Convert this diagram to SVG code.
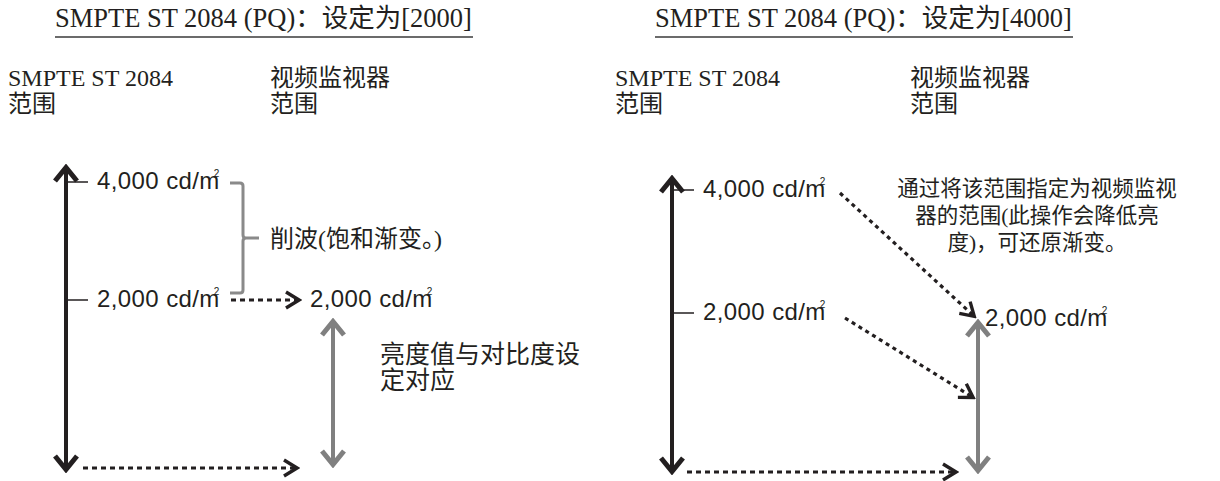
<svg xmlns="http://www.w3.org/2000/svg" width="1220" height="481" viewBox="0 0 1220 481">
<style>
.serif{font-family:"Liberation Serif","Noto Sans CJK SC",serif;fill:#231f20}
.title{font-size:26.5px}
.hdr{font-size:24px}
.note{font-size:24px}
.sans{font-family:"Liberation Sans","Noto Sans CJK SC",sans-serif;font-size:24px;letter-spacing:0.4px;fill:#231f20}
.sup{font-size:10px;letter-spacing:0}
.ul{stroke:#3a3a3a;stroke-width:1.5}
.axis{stroke:#231f20;stroke-width:4;fill:none}
.gaxis{stroke:#808080;stroke-width:4;fill:none}
.tick{stroke:#231f20;stroke-width:1.5}
.brace{stroke:#8a8a8a;stroke-width:3;fill:none;stroke-linejoin:round}
.dash{stroke:#231f20;stroke-width:3;fill:none;stroke-dasharray:5 4}
.dot{stroke:#231f20;stroke-width:3.2;fill:none;stroke-dasharray:4 4}
</style>
<defs>
<marker id="ah" viewBox="-20 -13 22 26" markerWidth="22" markerHeight="26" refX="0" refY="0" orient="auto" markerUnits="userSpaceOnUse">
<path d="M-14,-8 L-1,0 L-14,8" fill="none" stroke="#231f20" stroke-width="3.4" stroke-dasharray="none"/>
</marker>
<marker id="bk" viewBox="-22 -16 24 32" markerWidth="24" markerHeight="32" refX="0" refY="0" orient="auto-start-reverse" markerUnits="userSpaceOnUse">
<path d="M-15,-11 L-1.5,0 L-15,11" fill="none" stroke="#231f20" stroke-width="5"/>
</marker>
<marker id="gy" viewBox="-22 -16 24 32" markerWidth="24" markerHeight="32" refX="0" refY="0" orient="auto-start-reverse" markerUnits="userSpaceOnUse">
<path d="M-15,-11 L-1.5,0 L-15,11" fill="none" stroke="#808080" stroke-width="5"/>
</marker>
</defs>

<!-- Left panel -->
<g id="left-title">
<text class="serif title" x="55" y="27">SMPTE ST 2084 (PQ)：设定为[2000]</text>
<line class="ul" x1="55" y1="37" x2="473" y2="37"/>
</g>
<g id="left-src-header">
<text class="serif hdr" x="8" y="86">SMPTE ST 2084</text>
<text class="serif hdr" x="8" y="112">范围</text>
</g>
<g id="left-mon-header">
<text class="serif hdr" x="270" y="86">视频监视器</text>
<text class="serif hdr" x="270" y="112">范围</text>
</g>
<g id="left-src-axis">
<line class="axis" x1="66" y1="166" x2="66" y2="471" marker-start="url(#bk)" marker-end="url(#bk)"/>
<line class="tick" x1="68" y1="182" x2="88" y2="182"/>
<line class="tick" x1="68" y1="300" x2="88" y2="300"/>
</g>
<g id="left-4000">
<text class="sans" x="97" y="189">4,000 cd/m<tspan class="sup" dx="-6" dy="-12">2</tspan></text>
</g>
<g id="left-2000">
<text class="sans" x="97" y="307">2,000 cd/m<tspan class="sup" dx="-6" dy="-12">2</tspan></text>
</g>
<g id="left-clip">
<path class="brace" d="M230,183 H240 Q243,183 243,186 V235 Q243,238 246,238 H259 M246,238 Q243,238 243,241 V290 Q243,293 240,293 H230"/>
<text class="serif note" x="270" y="247">削波(饱和渐变。)</text>
</g>
<g id="left-mon-2000">
<text class="sans" x="310" y="307">2,000 cd/m<tspan class="sup" dx="-6" dy="-12">2</tspan></text>
</g>
<g id="left-mon-axis">
<line class="gaxis" x1="333" y1="320" x2="333" y2="466" marker-start="url(#gy)" marker-end="url(#gy)"/>
<text class="serif" font-size="25" x="380" y="363">亮度值与对比度设</text>
<text class="serif" font-size="25" x="380" y="389">定对应</text>
</g>

<!-- Right panel -->
<g id="right-title">
<text class="serif title" x="655" y="27">SMPTE ST 2084 (PQ)：设定为[4000]</text>
<line class="ul" x1="655" y1="37" x2="1073" y2="37"/>
</g>
<g id="right-src-header">
<text class="serif hdr" x="615" y="86">SMPTE ST 2084</text>
<text class="serif hdr" x="615" y="112">范围</text>
</g>
<g id="right-mon-header">
<text class="serif hdr" x="910" y="86">视频监视器</text>
<text class="serif hdr" x="910" y="112">范围</text>
</g>
<g id="right-src-axis">
<line class="axis" x1="672" y1="177" x2="672" y2="473" marker-start="url(#bk)" marker-end="url(#bk)"/>
<line class="tick" x1="674" y1="190" x2="694" y2="190"/>
<line class="tick" x1="674" y1="313" x2="694" y2="313"/>
</g>
<g id="right-4000">
<text class="sans" x="703" y="197">4,000 cd/m<tspan class="sup" dx="-6" dy="-12">2</tspan></text>
</g>
<g id="right-2000">
<text class="sans" x="703" y="320">2,000 cd/m<tspan class="sup" dx="-6" dy="-12">2</tspan></text>
</g>
<g id="right-note">
<text class="serif" font-size="21.5" text-anchor="middle" x="1037" y="196">通过将该范围指定为视频监视</text>
<text class="serif" font-size="21.5" text-anchor="middle" x="1037" y="223">器的范围(此操作会降低亮</text>
<text class="serif" font-size="21.5" text-anchor="middle" x="1037" y="250">度)，可还原渐变。</text>
</g>
<g id="right-mon-2000">
<text class="sans" x="985" y="326">2,000 cd/m<tspan class="sup" dx="-6" dy="-12">2</tspan></text>
</g>
<g id="right-mon-axis">
<line class="gaxis" x1="978" y1="321" x2="978" y2="472" marker-start="url(#gy)" marker-end="url(#gy)"/>
</g>

<g id="connectors">
<line class="dash" x1="231" y1="300" x2="300" y2="300" marker-end="url(#ah)"/>
<line class="dash" x1="83" y1="468" x2="298" y2="468" marker-end="url(#ah)"/>
<line class="dot" x1="840" y1="193" x2="975" y2="317" marker-end="url(#ah)"/>
<line class="dot" x1="845" y1="318" x2="974" y2="398" marker-end="url(#ah)"/>
<line class="dash" x1="687" y1="472" x2="957" y2="472" marker-end="url(#ah)"/>
</g>
</svg>
